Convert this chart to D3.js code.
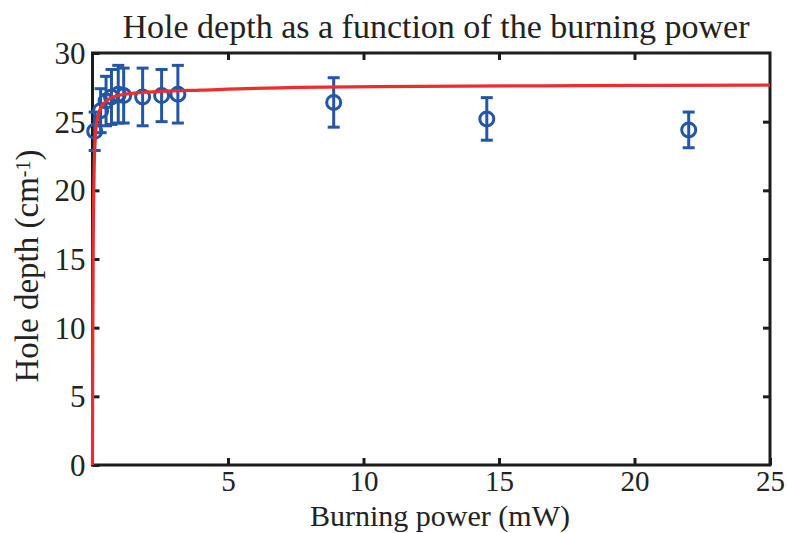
<!DOCTYPE html>
<html>
<head>
<meta charset="utf-8">
<script src="https://cdn.jsdelivr.net/npm/d3@7"></script>
<style>
  html, body { margin: 0; padding: 0; background: #fff; }
  svg { display: block; }
  text { font-family: "Liberation Serif", "DejaVu Serif", serif; fill: #222; }
</style>
</head>
<body>
<svg id="chart" width="787" height="533"></svg>
<script>
// ---- data ----
const powerMW   = [0.08, 0.3, 0.5, 0.7, 0.95, 1.15, 1.85, 2.55, 3.15, 8.9, 14.55, 22.0];
const depth     = [24.3, 25.8, 26.5, 26.8, 27.0, 26.9, 26.8, 26.9, 27.0, 26.4, 25.2, 24.4];
const depthErr  = [1.4, 1.6, 1.8, 2.0, 2.1, 2.0, 2.1, 1.9, 2.1, 1.8, 1.55, 1.3];

const fitPower  = [0, 0.01, 0.03, 0.06, 0.1, 0.18, 0.28, 0.45, 0.77, 1.4, 2.5, 4, 7.6, 12, 18, 25];
const fitDepth  = [0, 9.0, 17.0, 21.5, 23.8, 25.2, 25.9, 26.4, 26.8, 27.05, 27.2, 27.3, 27.5, 27.57, 27.62, 27.66];

const xTicks = [5, 10, 15, 20, 25];
const yTicks = [0, 5, 10, 15, 20, 25, 30];

const titleText = "Hole depth as a function of the burning power";
const xLabel = "Burning power (mW)";

// ---- layout ----
const svg = d3.select("#chart");
const L = 92.5, R = 770, T = 53, B = 465;
const x = d3.scaleLinear().domain([0, 25]).range([L, R]);
const y = d3.scaleLinear().domain([0, 30]).range([B, T]);

const blue = "#2456a5", red = "#ec2d2d", ink = "#1c1c1c";

// title
svg.append("text").attr("x", 436).attr("y", 38).attr("text-anchor", "middle")
  .style("font-size", "34px").text(titleText);

// axes with inward ticks
const gx = svg.append("g").attr("transform", `translate(0,${B})`)
  .call(d3.axisBottom(x).tickValues(xTicks).tickSizeInner(-7).tickSizeOuter(0).tickPadding(0));
const gxTop = svg.append("g").attr("transform", `translate(0,${T})`)
  .call(d3.axisTop(x).tickValues(xTicks.slice(0, -1)).tickSizeInner(-7).tickSizeOuter(0).tickFormat(""));
const gy = svg.append("g").attr("transform", `translate(${L},0)`)
  .call(d3.axisLeft(y).tickValues(yTicks).tickSizeInner(-7).tickSizeOuter(0).tickPadding(7));
const gyR = svg.append("g").attr("transform", `translate(${R},0)`)
  .call(d3.axisRight(y).tickValues(yTicks.slice(1, -1)).tickSizeInner(-7).tickSizeOuter(0).tickFormat(""));

[gx, gxTop, gy, gyR].forEach(g => {
  g.select(".domain").remove();
  g.selectAll(".tick line").attr("stroke", ink).attr("stroke-width", 3);
});
gx.selectAll(".tick text").attr("y", 26).attr("dy", 0)
  .style("font-size", "29px").attr("fill", "#222");
gy.selectAll(".tick text").attr("dy", "0.34em")
  .style("font-size", "31px").attr("fill", "#222");

// frame
svg.append("rect").attr("x", L).attr("y", T).attr("width", R - L).attr("height", B - T)
  .attr("fill", "none").attr("stroke", ink).attr("stroke-width", 3);

// data points with error bars
const pts = powerMW.map((p, i) => ({p, d: depth[i], e: depthErr[i]}));
const gp = svg.append("g").attr("stroke", blue).attr("stroke-width", 3).attr("fill", "none");
const cap = 6;
pts.forEach(o => {
  const cx = x(o.p);
  gp.append("line").attr("x1", cx).attr("x2", cx).attr("y1", y(o.d + o.e)).attr("y2", y(o.d - o.e));
  gp.append("line").attr("x1", cx - cap).attr("x2", cx + cap).attr("y1", y(o.d + o.e)).attr("y2", y(o.d + o.e));
  gp.append("line").attr("x1", cx - cap).attr("x2", cx + cap).attr("y1", y(o.d - o.e)).attr("y2", y(o.d - o.e));
  gp.append("circle").attr("cx", cx).attr("cy", y(o.d)).attr("r", 7);
});

// fit curve
const fit = fitPower.map((p, i) => [p, fitDepth[i]]);
svg.append("path").datum(fit)
  .attr("fill", "none").attr("stroke", red).attr("stroke-width", 3.2)
  .attr("d", d3.line().x(d => x(d[0])).y(d => y(d[1])).curve(d3.curveMonotoneX));

// axis labels
svg.append("text").attr("x", 440).attr("y", 526).attr("text-anchor", "middle")
  .style("font-size", "30px").text(xLabel);

const yl = svg.append("text").attr("transform", "translate(38,266) rotate(-90)")
  .attr("text-anchor", "middle").style("font-size", "33px");
yl.append("tspan").text("Hole depth (cm");
yl.append("tspan").attr("dy", "-0.4em").style("font-size", "20px").text("-1");
yl.append("tspan").attr("dy", "0.27em").text(")");
</script>
</body>
</html>
